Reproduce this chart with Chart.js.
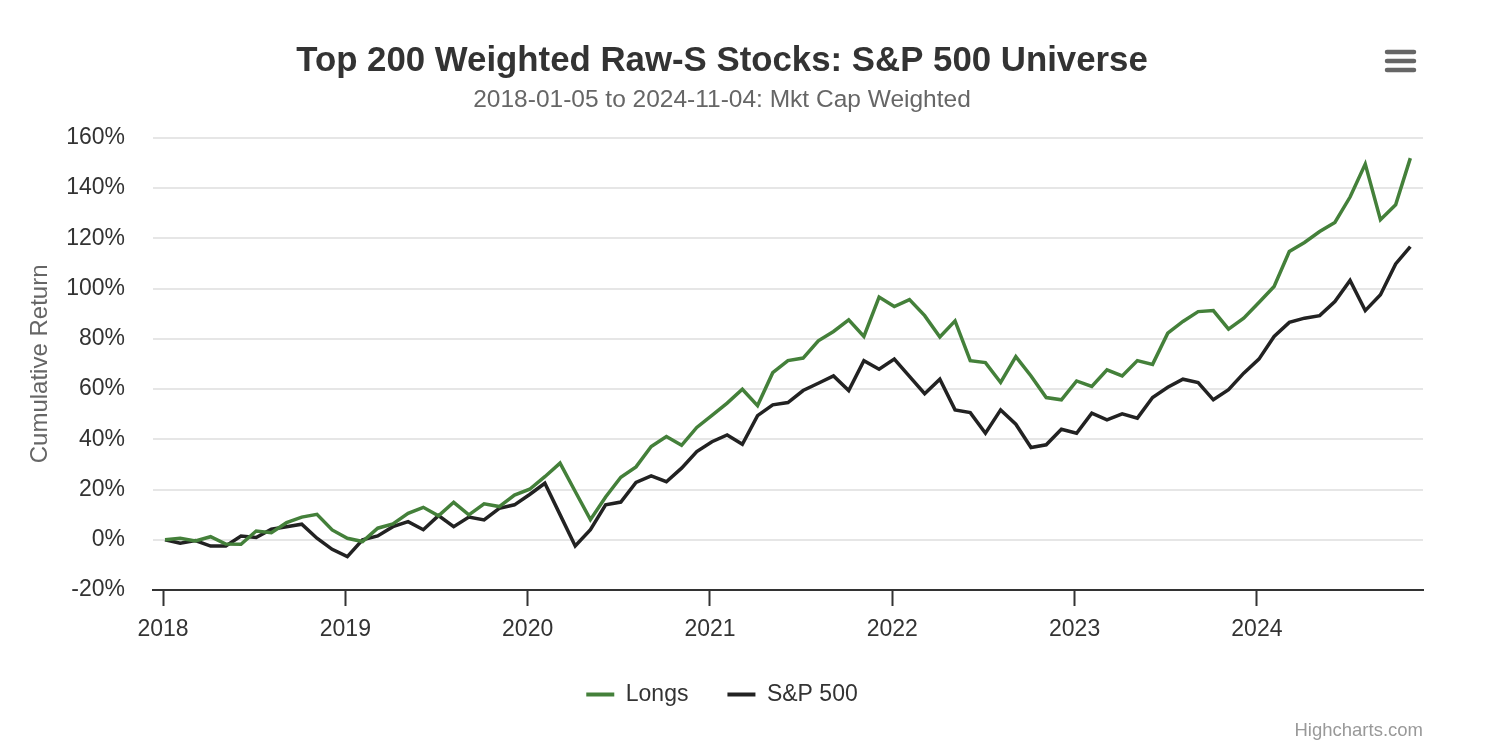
<!DOCTYPE html>
<html>
<head>
<meta charset="utf-8">
<script src="https://cdn.jsdelivr.net/npm/chart.js@4.4.1/dist/chart.umd.min.js"></script>
<style>
  body { margin: 0; background: #fff; }
</style>
</head>
<body>
<canvas id="chart" width="1444" height="746"></canvas>
<script>
// month-end style observations, 2018-01-05 .. 2024-11-04
const dates = [
  '2018-01-05','2018-02-05','2018-03-05','2018-04-05','2018-05-05','2018-06-05','2018-07-05','2018-08-05','2018-09-05','2018-10-05','2018-11-05','2018-12-05',
  '2019-01-05','2019-02-05','2019-03-05','2019-04-05','2019-05-05','2019-06-05','2019-07-05','2019-08-05','2019-09-05','2019-10-05','2019-11-05','2019-12-05',
  '2020-01-05','2020-02-05','2020-03-05','2020-04-05','2020-05-05','2020-06-05','2020-07-05','2020-08-05','2020-09-05','2020-10-05','2020-11-05','2020-12-05',
  '2021-01-05','2021-02-05','2021-03-05','2021-04-05','2021-05-05','2021-06-05','2021-07-05','2021-08-05','2021-09-05','2021-10-05','2021-11-05','2021-12-05',
  '2022-01-05','2022-02-05','2022-03-05','2022-04-05','2022-05-05','2022-06-05','2022-07-05','2022-08-05','2022-09-05','2022-10-05','2022-11-05','2022-12-05',
  '2023-01-05','2023-02-05','2023-03-05','2023-04-05','2023-05-05','2023-06-05','2023-07-05','2023-08-05','2023-09-05','2023-10-05','2023-11-05','2023-12-05',
  '2024-01-05','2024-02-05','2024-03-05','2024-04-05','2024-05-05','2024-06-05','2024-07-05','2024-08-05','2024-09-05','2024-10-05','2024-11-04'
];

// cumulative return, %
const longs = [
  0, 0.6, -0.5, 1.2, -1.7, -1.8, 3.5, 2.8, 6.8, 9.0, 10.1, 3.9,
  0.6, -0.7, 4.6, 6.3, 10.5, 12.9, 9.5, 14.9, 9.9, 14.3, 13.2, 17.8,
  20.1, 25.1, 30.5, 19.2, 8.0, 17.0, 24.9, 29.0, 37.1, 41.1, 37.6, 44.7,
  49.5, 54.4, 59.9, 53.4, 66.5, 71.3, 72.3, 79.2, 82.9, 87.5, 80.9, 96.6,
  92.8, 95.6, 89.2, 80.7, 87.1, 71.3, 70.5, 62.6, 72.9, 65.2, 56.6, 55.7,
  63.2, 61.0, 67.6, 65.2, 71.3, 69.8, 82.2, 86.9, 90.8, 91.2, 83.8, 88.2,
  94.4, 100.8, 114.7, 118.3, 122.7, 126.3, 136.4, 149.5, 127.4, 133.3, 151.9
];
const sp500 = [
  0, -1.4, -0.3, -2.5, -2.5, 1.5, 0.9, 4.2, 5.2, 6.2, 0.6, -3.8,
  -6.7, 0.0, 1.5, 5.2, 7.2, 4.0, 9.6, 5.2, 9.0, 7.9, 12.5, 13.9,
  18.0, 22.5, 10.0, -2.5, 4.0, 13.9, 15.0, 22.8, 25.4, 23.1, 28.5, 35.1,
  39.0, 41.7, 38.0, 49.4, 53.7, 54.6, 59.4, 62.3, 65.2, 59.4, 71.3, 67.9,
  71.9, 65.0, 58.1, 63.9, 51.7, 50.6, 42.4, 51.7, 46.0, 36.7, 37.8, 44.0,
  42.4, 50.4, 47.7, 50.1, 48.4, 56.6, 60.7, 63.9, 62.6, 55.7, 59.7, 66.3,
  71.9, 80.9, 86.5, 88.2, 89.2, 94.8, 103.2, 91.2, 97.5, 109.8, 116.7
];

const yearTicks = [2018, 2019, 2020, 2021, 2022, 2023, 2024];

const FONT = 'Helvetica, "Liberation Sans", Arial, sans-serif';

// date string -> fractional year for the linear x axis
function toYear(s) {
  const p = s.split('-').map(Number);
  return p[0] + (p[1] - 1) / 12 + (p[2] - 1) / 365;
}
const points = arr => arr.map((v, i) => ({ x: toYear(dates[i]), y: v }));

// credits + export menu glyph
const extras = {
  id: 'extras',
  afterDraw(chart) {
    const ctx = chart.ctx;
    ctx.save();
    ctx.font = '18.5px ' + FONT;
    ctx.fillStyle = '#999999';
    ctx.textAlign = 'right';
    ctx.textBaseline = 'middle';
    ctx.fillText('Highcharts.com', 1423, 731);

    ctx.strokeStyle = '#666666';
    ctx.lineWidth = 4.5;
    ctx.lineCap = 'round';
    [52, 61, 70].forEach(y => {
      ctx.beginPath();
      ctx.moveTo(1387, y);
      ctx.lineTo(1414, y);
      ctx.stroke();
    });
    ctx.restore();
  }
};

new Chart(document.getElementById('chart'), {
  type: 'line',
  data: {
    datasets: [
      {
        label: 'Longs',
        data: points(longs),
        borderColor: '#44803a',
        backgroundColor: '#44803a',
        borderWidth: 3.5,
        pointRadius: 0,
        tension: 0
      },
      {
        label: 'S&P 500',
        data: points(sp500),
        borderColor: '#222222',
        backgroundColor: '#222222',
        borderWidth: 3.5,
        pointRadius: 0,
        tension: 0
      }
    ]
  },
  options: {
    responsive: false,
    animation: false,
    devicePixelRatio: 1,
    layout: { padding: { top: 0, right: 21, bottom: 30, left: 21 } },
    scales: {
      x: {
        type: 'linear',
        min: 2017.945,
        max: 2024.911,
        afterBuildTicks: scale => { scale.ticks = yearTicks.map(v => ({ value: v })); },
        afterFit: scale => { scale.height = 54; },
        grid: { drawOnChartArea: false, tickLength: 16, tickColor: '#333333', tickWidth: 2 },
        border: { color: '#333333', width: 2 },
        ticks: {
          padding: 10,
          color: '#333333',
          font: { family: FONT, size: 23 },
          maxRotation: 0,
          callback: v => String(v)
        }
      },
      y: {
        min: -20,
        max: 160,
        afterFit: scale => { scale.width = 132; },
        grid: { color: '#e6e6e6', lineWidth: 2, drawTicks: false },
        border: { display: false },
        ticks: {
          stepSize: 20,
          padding: 28,
          color: '#333333',
          font: { family: FONT, size: 23 },
          callback: v => v + '%'
        },
        title: {
          display: true,
          text: 'Cumulative Return',
          color: '#666666',
          font: { family: FONT, size: 24 },
          padding: { top: 5, bottom: 0 }
        }
      }
    },
    plugins: {
      title: {
        display: true,
        text: 'Top 200 Weighted Raw-S Stocks: S&P 500 Universe',
        color: '#333333',
        font: { family: FONT, size: 34.8, weight: 'bold' },
        padding: { top: 41, bottom: 3 }
      },
      subtitle: {
        display: true,
        text: '2018-01-05 to 2024-11-04: Mkt Cap Weighted',
        color: '#666666',
        font: { family: FONT, size: 24.5 },
        padding: { top: 0, bottom: 22.6 }
      },
      legend: {
        position: 'bottom',
        labels: {
          boxWidth: 28,
          boxHeight: 4,
          padding: 39,
          color: '#333333',
          font: { family: FONT, size: 23 },
          generateLabels: chart =>
            Chart.defaults.plugins.legend.labels.generateLabels(chart)
              .map(item => Object.assign(item, { lineWidth: 0 }))
        }
      },
      tooltip: { enabled: false }
    }
  },
  plugins: [extras]
});
</script>
</body>
</html>
